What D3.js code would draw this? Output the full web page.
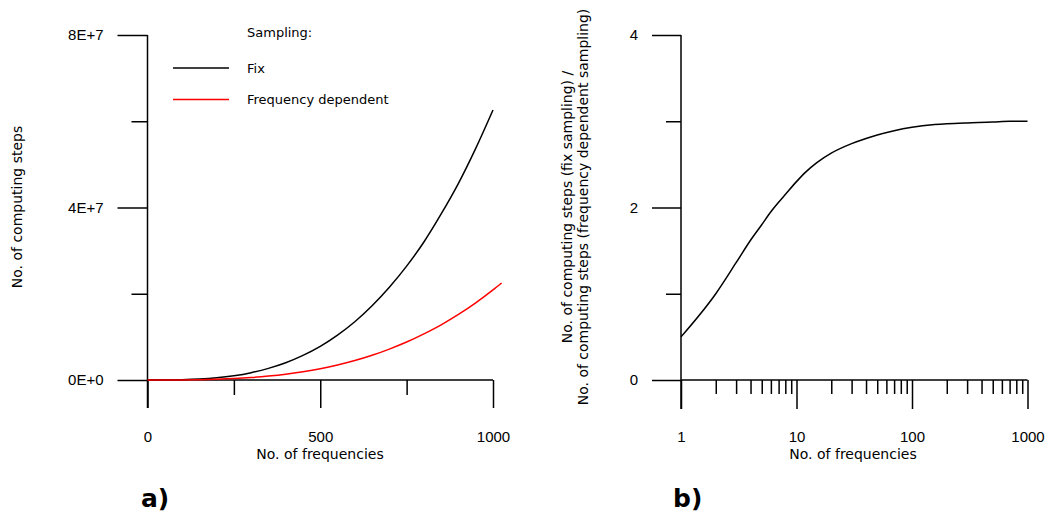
<!DOCTYPE html>
<html>
<head>
<meta charset="utf-8">
<script src="https://cdn.jsdelivr.net/npm/d3@7"></script>
<style>
  html, body { margin: 0; padding: 0; background: #fff; }
  svg { display: block; font-family: "DejaVu Sans", Verdana, sans-serif; }
  .axis path.domain { display: none; }
  .axis line { stroke: #000; stroke-width: 1.5; }
  .axis text { fill: #000; font-size: 15px; }
</style>
</head>
<body>
<svg id="chart" width="1047" height="516"></svg>
<script>
// Panel a: number of computing steps versus number of frequencies
const freqA = [0, 50, 100, 150, 200, 250, 300, 350, 400, 450, 500, 550, 600, 650, 700, 750, 800, 850, 900, 950, 1000];
const stepsFix = [0, 8e3, 6e4, 2.1e5, 5e5, 9.8e5, 1.7e6, 2.7e6, 4.0e6, 5.7e6, 7.8e6, 1.04e7, 1.35e7, 1.72e7, 2.15e7, 2.64e7, 3.2e7, 3.85e7, 4.56e7, 5.37e7, 6.26e7];
const freqADep = [0, 50, 100, 150, 200, 250, 300, 350, 400, 450, 500, 550, 600, 650, 700, 750, 800, 850, 900, 950, 1000, 1025];
const stepsDep = [0, 3e3, 2e4, 7e4, 1.67e5, 3.27e5, 5.67e5, 9e5, 1.33e6, 1.9e6, 2.6e6, 3.47e6, 4.5e6, 5.73e6, 7.17e6, 8.8e6, 1.07e7, 1.28e7, 1.52e7, 1.79e7, 2.09e7, 2.25e7];
const xTicksA = [0, 500, 1000];
const xMinorA = [250, 750];
const yTicksA = [0, 4e7, 8e7];
const yTickLabelsA = ["0E+0", "4E+7", "8E+7"];
const yMinorA = [2e7, 6e7];
const legendLabels = ["Fix", "Frequency dependent"];
const legendColors = ["#000000", "#ff0000"];

// Panel b: ratio of computing steps (fix / frequency dependent)
const freqB = [1, 2, 3, 4, 5, 6, 7, 8, 10, 12, 15, 20, 30, 40, 50, 70, 100, 150, 200, 300, 500, 700, 1000];
const ratioB = [0.5, 1.0, 1.36, 1.62, 1.80, 1.95, 2.06, 2.15, 2.30, 2.41, 2.52, 2.63, 2.74, 2.80, 2.84, 2.89, 2.93, 2.96, 2.97, 2.98, 2.99, 3.0, 3.0];
const xTicksB = [1, 10, 100, 1000];
const xMinorB = [2, 3, 4, 5, 6, 7, 8, 9, 20, 30, 40, 50, 60, 70, 80, 90, 200, 300, 400, 500, 600, 700, 800, 900];
const yTicksB = [0, 2, 4];
const yMinorB = [1, 3];

const svg = d3.select("#chart");
const plotTop = 35, base = 380;

// ---------- panel a ----------
const xA = d3.scaleLinear().domain([0, 1000]).range([147.5, 493]);
const yA = d3.scaleLinear().domain([0, 8e7]).range([base, plotTop]);
const gA = svg.append("g");

gA.append("g").attr("class", "axis").attr("transform", `translate(0,${base})`)
  .call(d3.axisBottom(xA).tickValues(xTicksA).tickFormat(d3.format("d")).tickSize(28).tickPadding(23));
gA.append("g").attr("class", "axis").attr("transform", `translate(0,${base})`)
  .call(d3.axisBottom(xA).tickValues(xMinorA).tickFormat("").tickSize(15));
gA.append("g").attr("class", "axis").attr("transform", `translate(${xA(0)},0)`)
  .call(d3.axisLeft(yA).tickValues(yTicksA).tickFormat((d, i) => yTickLabelsA[i]).tickSize(30).tickPadding(14));
gA.append("g").attr("class", "axis").attr("transform", `translate(${xA(0)},0)`)
  .call(d3.axisLeft(yA).tickValues(yMinorA).tickFormat("").tickSize(16));
// axis lines
gA.append("line").attr("x1", xA(0)).attr("x2", xA(0)).attr("y1", yA(8e7)).attr("y2", base + 28)
  .attr("stroke", "#000").attr("stroke-width", 1.5);
gA.append("line").attr("x1", xA(0)).attr("x2", xA(1000)).attr("y1", base).attr("y2", base)
  .attr("stroke", "#000").attr("stroke-width", 1.5);

const lineA = d3.line().curve(d3.curveMonotoneX);
gA.append("path")
  .attr("d", lineA(freqA.map((f, i) => [xA(f), yA(stepsFix[i])])))
  .attr("fill", "none").attr("stroke", legendColors[0]).attr("stroke-width", 1.5);
gA.append("path")
  .attr("d", lineA(freqADep.map((f, i) => [xA(f), yA(stepsDep[i])])))
  .attr("fill", "none").attr("stroke", legendColors[1]).attr("stroke-width", 1.5);

// legend
const leg = gA.append("g").attr("font-size", 13);
leg.append("text").attr("x", 247).attr("y", 32).attr("dy", "0.35em").text("Sampling:");
legendLabels.forEach((lab, i) => {
  const ly = 68 + i * 31.5;
  leg.append("line").attr("x1", 173).attr("x2", 229).attr("y1", ly).attr("y2", ly)
    .attr("stroke", legendColors[i]).attr("stroke-width", 1.3);
  leg.append("text").attr("x", 247).attr("y", ly).attr("dy", "0.35em").text(lab);
});

gA.append("text").attr("x", 320).attr("y", 459).attr("text-anchor", "middle")
  .attr("font-size", 14).text("No. of frequencies");
gA.append("text").attr("transform", "translate(22,207) rotate(-90)").attr("text-anchor", "middle")
  .attr("font-size", 14).text("No. of computing steps");
gA.append("text").attr("x", 141).attr("y", 507).attr("font-size", 25).attr("font-weight", "bold").text("a)");

// ---------- panel b ----------
const xB = d3.scaleLog().domain([1, 1000]).range([681, 1027.5]);
const yB = d3.scaleLinear().domain([0, 4]).range([base, plotTop]);
const gB = svg.append("g");

gB.append("g").attr("class", "axis").attr("transform", `translate(0,${base})`)
  .call(d3.axisBottom(xB).tickValues(xTicksB).tickFormat(d3.format("d")).tickSize(29).tickPadding(22));
gB.append("g").attr("class", "axis").attr("transform", `translate(0,${base})`)
  .call(d3.axisBottom(xB).tickValues(xMinorB).tickFormat("").tickSize(14));
gB.append("g").attr("class", "axis").attr("transform", `translate(${xB(1)},0)`)
  .call(d3.axisLeft(yB).tickValues(yTicksB).tickFormat(d3.format("d")).tickSize(29).tickPadding(14));
gB.append("g").attr("class", "axis").attr("transform", `translate(${xB(1)},0)`)
  .call(d3.axisLeft(yB).tickValues(yMinorB).tickFormat("").tickSize(15));
gB.append("line").attr("x1", xB(1)).attr("x2", xB(1)).attr("y1", yB(4)).attr("y2", base + 29)
  .attr("stroke", "#000").attr("stroke-width", 1.5);
gB.append("line").attr("x1", xB(1)).attr("x2", xB(1000)).attr("y1", base).attr("y2", base)
  .attr("stroke", "#000").attr("stroke-width", 1.5);

gB.append("path")
  .attr("d", d3.line().curve(d3.curveMonotoneX)(freqB.map((f, i) => [xB(f), yB(ratioB[i])])))
  .attr("fill", "none").attr("stroke", "#000").attr("stroke-width", 1.5);

gB.append("text").attr("x", 853).attr("y", 459).attr("text-anchor", "middle")
  .attr("font-size", 14).text("No. of frequencies");
const yt = gB.append("text").attr("transform", "translate(572,207) rotate(-90)")
  .attr("text-anchor", "middle").attr("font-size", 14);
yt.append("tspan").attr("x", 0).attr("y", 0).text("No. of computing steps (fix sampling) /");
yt.append("tspan").attr("x", 0).attr("y", 15.5).text("No. of computing steps (frequency dependent sampling)");
gB.append("text").attr("x", 673).attr("y", 507).attr("font-size", 25).attr("font-weight", "bold").text("b)");
</script>
</body>
</html>
